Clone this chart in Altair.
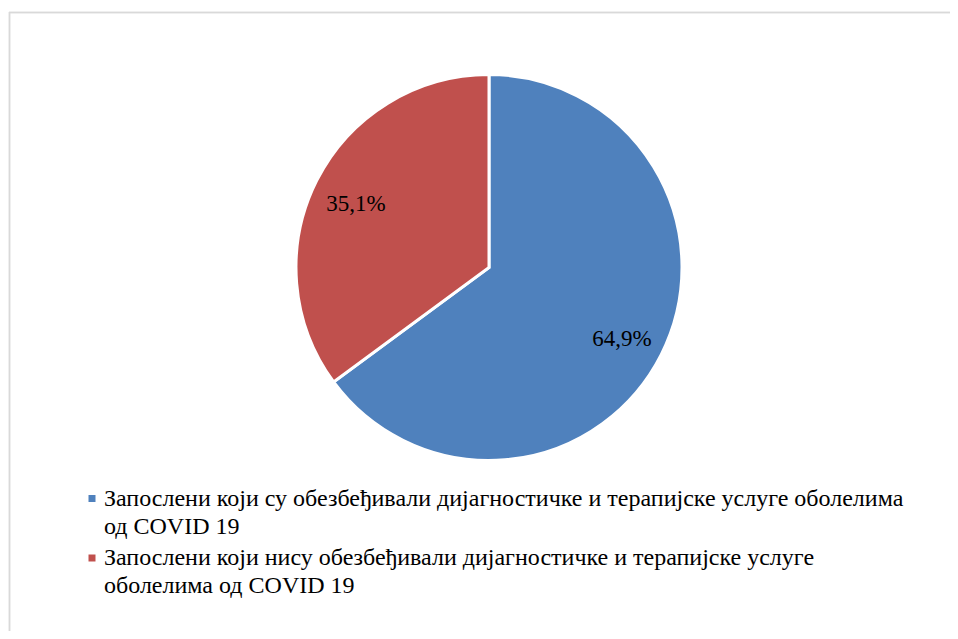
import altair as alt
import pandas as pd

categories = [
    "Запослени који су обезбеђивали дијагностичке и терапијске услуге оболелима\nод COVID 19",
    "Запослени који нису обезбеђивали дијагностичке и терапијске услуге\nоболелима од COVID 19",
]
values = [64.9, 35.1]
colors = ["#4F81BD", "#C0504D"]

df = pd.DataFrame({"idx": [0, 1], "category": categories, "value": values})

W, H = 942, 623
CX, CY = 481, 259.5
FONT = "Times New Roman, Liberation Serif, DejaVu Serif"

base = alt.Chart(df).transform_calculate(
    label="replace(format(datum.value, '.1f'), '.', ',') + '%'"
)

color = alt.Color("category:N", scale=alt.Scale(domain=categories, range=colors), legend=None)

pie = base.mark_arc(outerRadius=193, stroke="white", strokeWidth=3).encode(
    theta=alt.Theta("value:Q", stack=True),
    order=alt.Order("idx:Q", sort="ascending"),
    color=color,
    x=alt.value(CX),
    y=alt.value(CY),
)

labels = base.mark_text(radius=149, color="black", dy=4, font=FONT, fontSize=23).encode(
    theta=alt.Theta("value:Q", stack=True),
    order=alt.Order("idx:Q", sort="ascending"),
    text="label:N",
    x=alt.value(CX),
    y=alt.value(CY),
)

ypos = alt.Y("idx:Q", scale=alt.Scale(domain=[0, 1], range=[497.5, 557]), axis=None)

leg_sq = base.mark_square(size=49, opacity=1).encode(
    x=alt.value(84),
    y=ypos,
    color=color,
    yOffset=alt.value(-7),
)

leg_txt = base.mark_text(
    align="left", baseline="alphabetic",
    lineBreak="\n", lineHeight=28, color="black", font=FONT, fontSize=24
).encode(
    x=alt.value(96),
    y=ypos,
    text="category:N",
)

frame_top = base.mark_rule(color="#D9D9D9", strokeWidth=1.5).encode(
    x=alt.value(1), x2=alt.value(W), y=alt.value(4.5)
)
frame_left = base.mark_rule(color="#D9D9D9", strokeWidth=1.5).encode(
    x=alt.value(1.5), y=alt.value(4), y2=alt.value(H)
)

chart = alt.layer(frame_top, frame_left, pie, labels, leg_sq, leg_txt).properties(
    width=W, height=H, padding=0,
    autosize=alt.AutoSizeParams(type="none"),
).configure_view(stroke=None).configure_text(font=FONT, fontSize=22)

chart.save("out.html", embed_options={"renderer": "svg", "actions": False})
